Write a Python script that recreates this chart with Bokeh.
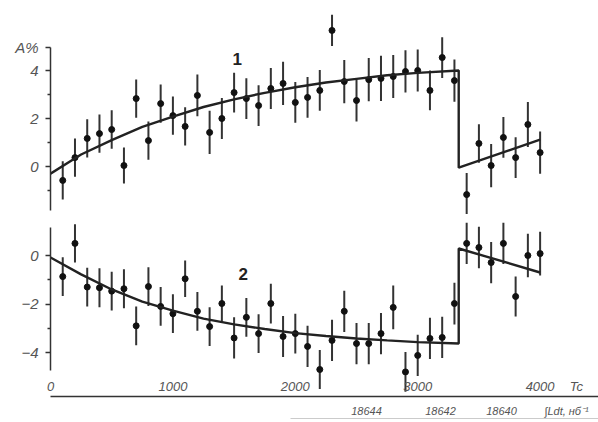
from bokeh.plotting import figure
from bokeh.models import Range1d, LinearAxis, FixedTicker
from bokeh.layouts import column
from bokeh.embed import file_html
from bokeh.resources import INLINE
from bokeh.core.properties import value

# ---------------- data ----------------
T = [100, 200, 300, 400, 500, 600, 700, 800, 900, 1000,
     1100, 1200, 1300, 1400, 1500, 1600, 1700, 1800, 1900, 2000,
     2100, 2200, 2300, 2400, 2500, 2600, 2700, 2800, 2900, 3000,
     3100, 3200, 3300, 3400, 3500, 3600, 3700, 3800, 3900, 4000]

A1 = [-0.58, 0.37, 1.17, 1.37, 1.54, 0.04, 2.83, 1.08, 2.62, 2.12,
      1.67, 2.96, 1.42, 2.00, 3.08, 2.83, 2.54, 3.25, 3.46, 2.67,
      2.88, 3.17, 5.67, 3.54, 2.75, 3.62, 3.67, 3.75, 3.96, 4.00,
      3.17, 4.54, 3.58, -1.17, 0.96, 0.04, 1.21, 0.37, 1.75, 0.58]
E1 = [0.80, 0.80, 0.80, 0.80, 0.80, 0.75, 0.80, 0.80, 0.80, 0.80,
      0.80, 0.87, 0.90, 0.85, 0.83, 0.85, 0.85, 0.85, 0.90, 0.85,
      0.85, 0.85, 0.65, 0.90, 0.87, 0.90, 0.94, 0.90, 0.88, 0.88,
      0.83, 0.85, 0.88, 0.90, 0.80, 0.90, 0.85, 0.85, 0.94, 0.88]

A2 = [-0.87, 0.50, -1.30, -1.33, -1.47, -1.37, -2.90, -1.28, -2.10, -2.40,
      -0.96, -2.30, -2.93, -1.98, -3.40, -2.55, -3.22, -1.98, -3.34, -3.22,
      -3.75, -4.70, -3.50, -2.30, -3.63, -3.63, -3.22, -2.14, -4.80, -4.12,
      -3.42, -3.38, -1.98, 0.50, 0.33, -0.29, 0.50, -1.69, 0.00, 0.08]
E2 = [0.80, 0.79, 0.80, 0.80, 0.80, 0.80, 0.80, 0.80, 0.80, 0.80,
      0.75, 0.80, 0.80, 0.74, 0.85, 0.80, 0.80, 0.82, 0.85, 0.82,
      0.85, 0.80, 0.85, 0.85, 0.85, 0.85, 0.85, 0.90, 0.82, 0.85,
      0.85, 0.85, 0.86, 0.85, 0.86, 0.85, 0.85, 0.82, 0.90, 0.90]

CT = [0, 250, 500, 750, 1000, 1250, 1500, 1750, 2000, 2250, 2500, 2750, 3000, 3335, 3335, 4000]
C1 = [-0.30, 0.50, 1.10, 1.65, 2.08, 2.48, 2.80, 3.07, 3.30, 3.50, 3.65, 3.80, 3.90, 4.00, -0.05, 1.12]
C2 = [-0.08, -0.78, -1.40, -1.90, -2.27, -2.60, -2.84, -3.03, -3.20, -3.32, -3.42, -3.50, -3.57, -3.63, 0.29, -0.70]

y_ticks_top = [0, 2, 4]
y_minor_top = [-1, 1, 3]
y_name_pos = 4.96
y_name = "A%"
y_ticks_bot = [-4, -2, 0]
y_minor_bot = [-3, -1]
x_ticks = [0, 1000, 2000, 3000, 4000]
x_unit_pos = 4297
x_unit = "Tc"
lumi_pos = [2582, 3186, 3685, 4216]
lumi_labels = ["18644", "18642", "18640", "∫Ldt, нб⁻¹"]

INK = "#222222"
GREY = "#555555"
FONT = "Liberation Sans"

xr = Range1d(0, 4477)


def style_y(ax):
    ax.axis_line_width = 1.5
    ax.axis_line_color = "#333333"
    ax.major_tick_out = 5
    ax.major_tick_in = 0
    ax.minor_tick_out = 3
    ax.minor_tick_in = 0
    ax.major_tick_line_color = "#333333"
    ax.minor_tick_line_color = "#333333"
    ax.major_tick_line_width = 1.3
    ax.minor_tick_line_width = 1.3
    ax.major_label_standoff = 7
    ax.major_label_text_font = FONT
    ax.major_label_text_font_style = "italic"
    ax.major_label_text_font_size = "15px"
    ax.major_label_text_color = GREY


def draw(p, y, e, c):
    lo = [v - d for v, d in zip(y, e)]
    hi = [v + d for v, d in zip(y, e)]
    p.segment(x0=T, y0=lo, x1=T, y1=hi, line_color="#333333", line_width=2.0)
    p.scatter(x=T, y=y, size=6, marker="circle", fill_color="#111111", line_color="#111111")
    p.line(x=CT, y=c, line_color=INK, line_width=2.4)


common = dict(frame_width=548, x_range=xr, x_axis_type=None, y_axis_type=None,
              output_backend="svg", toolbar_location=None, title=None,
              min_border_left=50, min_border_right=0, min_border_top=0, min_border_bottom=0)

# ---------------- top panel ----------------
top = figure(frame_height=214, y_range=Range1d(-2.0, 6.917), **common)
top.outline_line_color = None
ya = LinearAxis(ticker=FixedTicker(ticks=y_ticks_top + [y_name_pos], minor_ticks=y_minor_top),
                major_label_overrides={y_name_pos: y_name}, bounds=(-1.83, y_name_pos))
style_y(ya)
top.add_layout(ya, "left")
draw(top, A1, E1, C1)
top.text(x=[1525], y=[4.5], text=["1"], text_font=value(FONT), text_font_style="bold",
         text_font_size="17px", text_color=INK, text_align="center", text_baseline="middle")

# ---------------- bottom panel ----------------
bot = figure(frame_height=182, y_range=Range1d(-5.814, 1.691), **common)
bot.outline_line_color = None
yb = LinearAxis(ticker=FixedTicker(ticks=y_ticks_bot, minor_ticks=y_minor_bot), bounds=(-4.74, 1.15))
style_y(yb)
bot.add_layout(yb, "left")
draw(bot, A2, E2, C2)
bot.text(x=[1574], y=[-0.75], text=["2"], text_font=value(FONT), text_font_style="bold",
         text_font_size="17px", text_color=INK, text_align="center", text_baseline="middle")

xa = LinearAxis(ticker=FixedTicker(ticks=x_ticks + [x_unit_pos]),
                major_label_overrides={x_unit_pos: x_unit})
xa.axis_line_width = 1.5
xa.axis_line_color = "#333333"
xa.major_tick_out = 0
xa.major_tick_in = 0
xa.major_label_standoff = -18
xa.major_label_text_font = FONT
xa.major_label_text_font_style = "italic"
xa.major_label_text_font_size = "13px"
xa.major_label_text_color = GREY
bot.add_layout(xa, "below")

xl = LinearAxis(ticker=FixedTicker(ticks=lumi_pos),
                major_label_overrides={k: v for k, v in zip(lumi_pos, lumi_labels)})
xl.axis_line_color = None
xl.major_tick_line_color = None
xl.major_tick_out = 0
xl.major_tick_in = 0
xl.major_label_standoff = 8
xl.major_label_text_font = FONT
xl.major_label_text_font_style = "italic"
xl.major_label_text_font_size = "11px"
xl.major_label_text_color = GREY
bot.add_layout(xl, "below")

xl2 = LinearAxis(ticker=FixedTicker(ticks=[]), bounds=(1960, 4477))
xl2.axis_line_width = 1.5
xl2.axis_line_color = "#333333"
xl2.major_tick_out = 0
xl2.major_tick_in = 0
xl2.major_label_text_font_size = "0px"
bot.add_layout(xl2, "below")

layout = column(top, bot)
open("out.html", "w").write(file_html(layout, INLINE))
